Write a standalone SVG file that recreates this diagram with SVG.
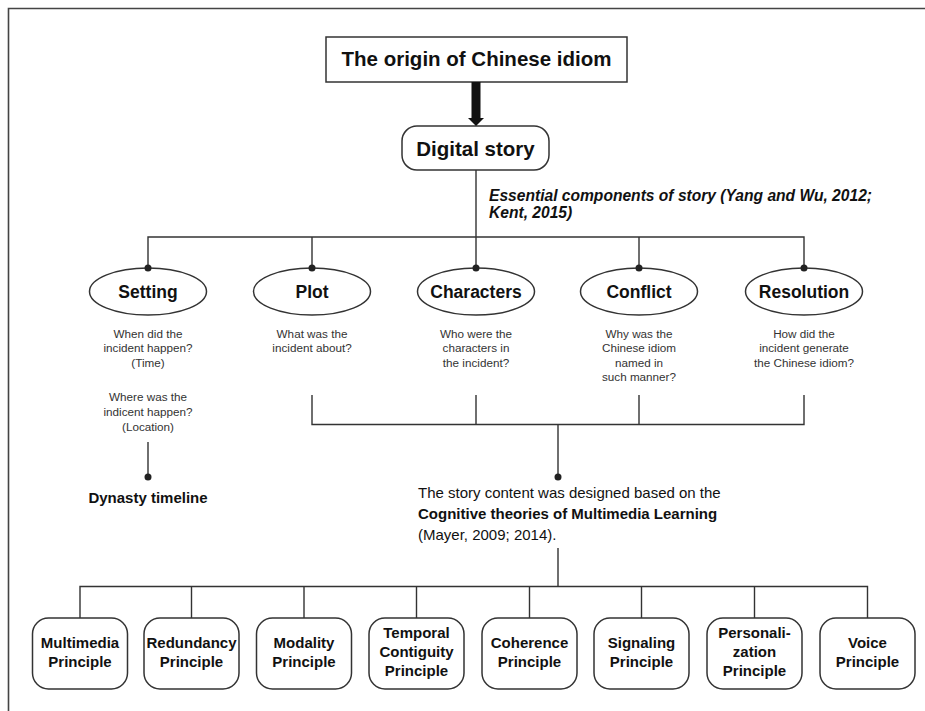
<svg xmlns="http://www.w3.org/2000/svg" width="925" height="711" viewBox="0 0 925 711">
<style>
text{font-family:"Liberation Sans",Arial,sans-serif;fill:#111}
.t{font-size:20.5px;font-weight:bold;text-anchor:middle}
.e{font-size:17.5px;font-weight:bold;text-anchor:middle}
.q{font-size:11.7px;text-anchor:middle;fill:#333}
.b{font-size:15px;font-weight:bold;text-anchor:middle}
.s{font-size:15px}
.it{font-size:15.6px;font-weight:bold;font-style:italic}
.ln{stroke:#333;stroke-width:1.4;fill:none}
.sh{fill:#fff;stroke:#333;stroke-width:1.5}
.dot{fill:#222}
</style>
<rect width="925" height="711" fill="#fff"/>
<path d="M8.5 711V8.5H925" fill="none" stroke="#444" stroke-width="1.6"/>
<g id="title"><rect class="sh" x="326" y="37" width="301" height="45"/><text class="t" x="476.5" y="66">The origin of Chinese idiom</text></g>
<g id="digital"><rect class="sh" x="402" y="126" width="147" height="44" rx="15"/><text class="t" x="475.5" y="156">Digital story</text></g>
<g id="essential"><text class="it" x="489" y="201">Essential components of story (Yang and Wu, 2012;</text><text class="it" x="489" y="218">Kent, 2015)</text></g>
<g id="setting"><ellipse class="sh" cx="148" cy="291.5" rx="58.5" ry="23.5"/><text class="e" x="148" y="298">Setting</text>
<text class="q" x="148" y="337.5">When did the</text><text class="q" x="148" y="352">incident happen?</text><text class="q" x="148" y="366.5">(Time)</text>
<text class="q" x="148" y="400.5">Where was the</text><text class="q" x="148" y="415.5">indicent happen?</text><text class="q" x="148" y="430.5">(Location)</text></g>
<g id="plot"><ellipse class="sh" cx="312" cy="291.5" rx="58.5" ry="23.5"/><text class="e" x="312" y="298">Plot</text>
<text class="q" x="312" y="337.5">What was the</text><text class="q" x="312" y="352">incident about?</text></g>
<g id="characters"><ellipse class="sh" cx="476" cy="291.5" rx="58.5" ry="23.5"/><text class="e" x="476" y="298">Characters</text>
<text class="q" x="476" y="337.5">Who were the</text><text class="q" x="476" y="352">characters in</text><text class="q" x="476" y="366.5">the incident?</text></g>
<g id="conflict"><ellipse class="sh" cx="639" cy="291.5" rx="58.5" ry="23.5"/><text class="e" x="639" y="298">Conflict</text>
<text class="q" x="639" y="337.5">Why was the</text><text class="q" x="639" y="352">Chinese idiom</text><text class="q" x="639" y="366.5">named in</text><text class="q" x="639" y="381">such manner?</text></g>
<g id="resolution"><ellipse class="sh" cx="804" cy="291.5" rx="58.5" ry="23.5"/><text class="e" x="804" y="298">Resolution</text>
<text class="q" x="804" y="337.5">How did the</text><text class="q" x="804" y="352">incident generate</text><text class="q" x="804" y="366.5">the Chinese idiom?</text></g>
<g id="dynasty"><text class="b" x="148" y="503">Dynasty timeline</text></g>
<g id="cognitive"><text class="s" x="418" y="498">The story content was designed based on the</text><text class="s" x="418" y="519" font-weight="bold">Cognitive theories of Multimedia Learning</text><text class="s" x="418" y="540">(Mayer, 2009; 2014).</text></g>
<g id="p1"><rect class="sh" x="32.5" y="618" width="95" height="71" rx="16"/><text class="b" x="80" y="648">Multimedia</text><text class="b" x="80" y="667">Principle</text></g>
<g id="p2"><rect class="sh" x="144" y="618" width="95" height="71" rx="16"/><text class="b" x="191.5" y="648">Redundancy</text><text class="b" x="191.5" y="667">Principle</text></g>
<g id="p3"><rect class="sh" x="256.5" y="618" width="95" height="71" rx="16"/><text class="b" x="304" y="648">Modality</text><text class="b" x="304" y="667">Principle</text></g>
<g id="p4"><rect class="sh" x="369" y="618" width="95" height="71" rx="16"/><text class="b" x="416.5" y="638">Temporal</text><text class="b" x="416.5" y="657">Contiguity</text><text class="b" x="416.5" y="676">Principle</text></g>
<g id="p5"><rect class="sh" x="482" y="618" width="95" height="71" rx="16"/><text class="b" x="529.5" y="648">Coherence</text><text class="b" x="529.5" y="667">Principle</text></g>
<g id="p6"><rect class="sh" x="594" y="618" width="95" height="71" rx="16"/><text class="b" x="641.5" y="648">Signaling</text><text class="b" x="641.5" y="667">Principle</text></g>
<g id="p7"><rect class="sh" x="707" y="618" width="95" height="71" rx="16"/><text class="b" x="754.5" y="638">Personali-</text><text class="b" x="754.5" y="657">zation</text><text class="b" x="754.5" y="676">Principle</text></g>
<g id="p8"><rect class="sh" x="820" y="618" width="95" height="71" rx="16"/><text class="b" x="867.5" y="648">Voice</text><text class="b" x="867.5" y="667">Principle</text></g>
<g id="connectors">
<rect x="471.5" y="82" width="9" height="37" fill="#111"/>
<polygon points="468,118 484,118 476,126" fill="#111"/>
<path class="ln" d="M476 170V237M148 268V237H804V268M312 237V268M476 237V268M639 237V268"/>
<path class="ln" d="M312 395V424.5H804V395M476 395V424.5M639 395V424.5M558 424.5V477"/>
<path class="ln" d="M148 442V477"/>
<path class="ln" d="M558 548V586.5M80 618V586.5H867.5V618M191.5 586.5V618M304 586.5V618M416.5 586.5V618M529.5 586.5V618M641.5 586.5V618M754.5 586.5V618"/>
<g class="dot">
<circle cx="148" cy="268" r="3.5"/><circle cx="312" cy="268" r="3.5"/><circle cx="476" cy="268" r="3.5"/><circle cx="639" cy="268" r="3.5"/><circle cx="804" cy="268" r="3.5"/>
<circle cx="148" cy="477" r="3.5"/><circle cx="558" cy="477" r="3.5"/>
</g>
</g>
</svg>
